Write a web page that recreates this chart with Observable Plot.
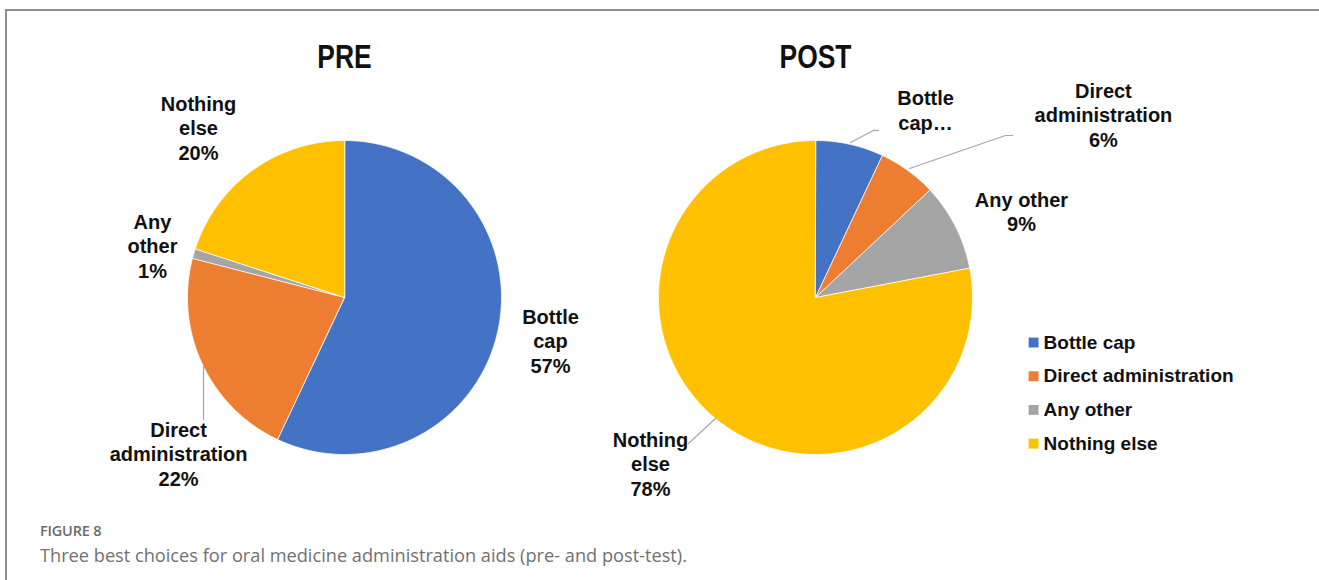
<!DOCTYPE html>
<html>
<head>
<meta charset="utf-8">
<script src="https://cdn.jsdelivr.net/npm/d3@7"></script>
<script src="https://cdn.jsdelivr.net/npm/@observablehq/plot@0.6"></script>
<style>
  html, body { margin: 0; padding: 0; background: #fff; }
  body { width: 1319px; height: 580px; position: relative; overflow: hidden; }
  #frame { position: absolute; left: 5px; top: 9px; width: 1320px; height: 600px;
           border-top: 2px solid #8e8e8e; border-left: 2px solid #8e8e8e; box-sizing: border-box; }
  #chart { position: absolute; left: 0; top: 0; }
  #fig { position: absolute; left: 40px; top: 521px; font-family: "Open Sans", sans-serif;
         font-size: 14.5px; font-weight: 600; color: #6b6b6b; letter-spacing: -0.2px; }
  #desc { position: absolute; left: 40px; top: 543px; font-family: "Open Sans", sans-serif;
          font-size: 18.2px; font-weight: 400; color: #717171; white-space: nowrap; }
</style>
</head>
<body>
<div id="frame"></div>
<div id="chart"></div>
<div id="fig">FIGURE 8</div>
<div id="desc">Three best choices for oral medicine administration aids (pre- and post-test).</div>
<script>
// ---- data ----
const categories = ["Bottle cap", "Direct administration", "Any other", "Nothing else"];
const colors = ["#4472C4", "#ED7D31", "#A5A5A5", "#FFC000"];
const pies = ["PRE", "POST"];
const preValues = [57, 22, 1, 20];
const postValues = [7, 6, 9, 78];
const preLabels = ["Bottle\ncap\n57%", "Direct\nadministration\n22%", "Any\nother\n1%", "Nothing\nelse\n20%"];
const postLabels = ["Bottle\ncap…", "Direct\nadministration\n6%", "Any other\n9%", "Nothing\nelse\n78%"];

// ---- layout (radius units relative to each pie centre) ----
const preLabelPos = [[1.312, -0.274], [-1.057, -0.994], [-1.223, 0.331], [-0.930, 1.083]];
const postLabelPos = [[0.701, 1.197], [1.834, 1.166], [1.312, 0.548], [-1.051, -1.057]];
const leaders = [
  {pie: 0, pts: [[-0.898, -0.439], [-0.898, -0.777]]},
  {pie: 1, pts: [[0.223, 0.987], [0.369, 1.064], [0.401, 1.064]]},
  {pie: 1, pts: [[0.599, 0.822], [1.210, 1.032], [1.255, 1.032]]},
  {pie: 1, pts: [[-0.637, -0.771], [-0.809, -0.930]]}
];

const W = 1319, H = 500, R = 157, cx0 = 344, cy = 297, gap = 3;
const font = "'Liberation Sans', Arial, sans-serif";

function sliceRows(values, pieIndex) {
  const total = d3.sum(values);
  const off = pieIndex * gap;
  const rows = [];
  let cum = 0;
  values.forEach((v, i) => {
    const a0 = cum / total * 2 * Math.PI;
    cum += v;
    const a1 = cum / total * 2 * Math.PI;
    const key = pieIndex + "-" + i;
    rows.push({x: off, y: 0, key, cat: categories[i]});
    const n = Math.max(2, Math.ceil((a1 - a0) / (Math.PI / 360)));
    for (let k = 0; k <= n; k++) {
      const a = a0 + (a1 - a0) * k / n;
      rows.push({x: off + Math.sin(a), y: Math.cos(a), key, cat: categories[i]});
    }
  });
  return rows;
}

const slices = [...sliceRows(preValues, 0), ...sliceRows(postValues, 1)];

const labelRows = [
  ...preLabels.map((t, i) => ({x: preLabelPos[i][0], y: preLabelPos[i][1], text: t})),
  ...postLabels.map((t, i) => ({x: gap + postLabelPos[i][0], y: postLabelPos[i][1], text: t}))
];

const leaderRows = leaders.flatMap((l, j) => l.pts.map(p => ({x: l.pie * gap + p[0], y: p[1], id: j})));

const titleRows = pies.map((p, i) => ({x: i * gap, y: 1.529, text: p}));

const legX = 4.389, legY0 = -0.287, legDy = 0.2146;
const legendRows = categories.map((c, i) => ({x: legX, y: legY0 - i * legDy, cat: c}));

const chart = Plot.plot({
  width: W,
  height: H,
  margin: 0,
  x: {domain: [-cx0 / R, (W - cx0) / R], range: [0, W], axis: null},
  y: {domain: [(cy - H) / R, cy / R], range: [H, 0], axis: null},
  color: {domain: categories, range: colors},
  style: {background: "transparent", overflow: "visible"},
  marks: [
    Plot.line(slices, {x: "x", y: "y", z: "key", fill: "cat", stroke: "white", strokeWidth: 0.8, curve: "linear-closed"}),
    Plot.line(leaderRows, {x: "x", y: "y", z: "id", stroke: "#a6a6a6", strokeWidth: 1.2}),
    Plot.text(labelRows, {x: "x", y: "y", text: "text", fontSize: 20, fontWeight: "bold", fill: "#111", lineHeight: 1.22, fontFamily: font}),
    Plot.text(titleRows, {x: "x", y: "y", text: "text", fontSize: 33, fontWeight: "bold", fill: "#111",
      className: "pie-title", fontFamily: "'Liberation Sans', Arial, sans-serif"}),
    Plot.dot(legendRows, {x: "x", y: "y", fill: "cat", symbol: "square", r: 5.6}),
    Plot.text(legendRows, {x: "x", y: "y", text: "cat", dx: 10, textAnchor: "start", fontSize: 19, fontWeight: "bold", fill: "#111", fontFamily: font})
  ]
});
document.getElementById("chart").appendChild(chart);
// condense the titles (reference uses a narrow bold face)
d3.select(chart).selectAll(".pie-title text").each(function () {
  const len = this.getComputedTextLength();
  this.setAttribute("textLength", (len * 0.8).toFixed(1));
  this.setAttribute("lengthAdjust", "spacingAndGlyphs");
});
</script>
</body>
</html>
